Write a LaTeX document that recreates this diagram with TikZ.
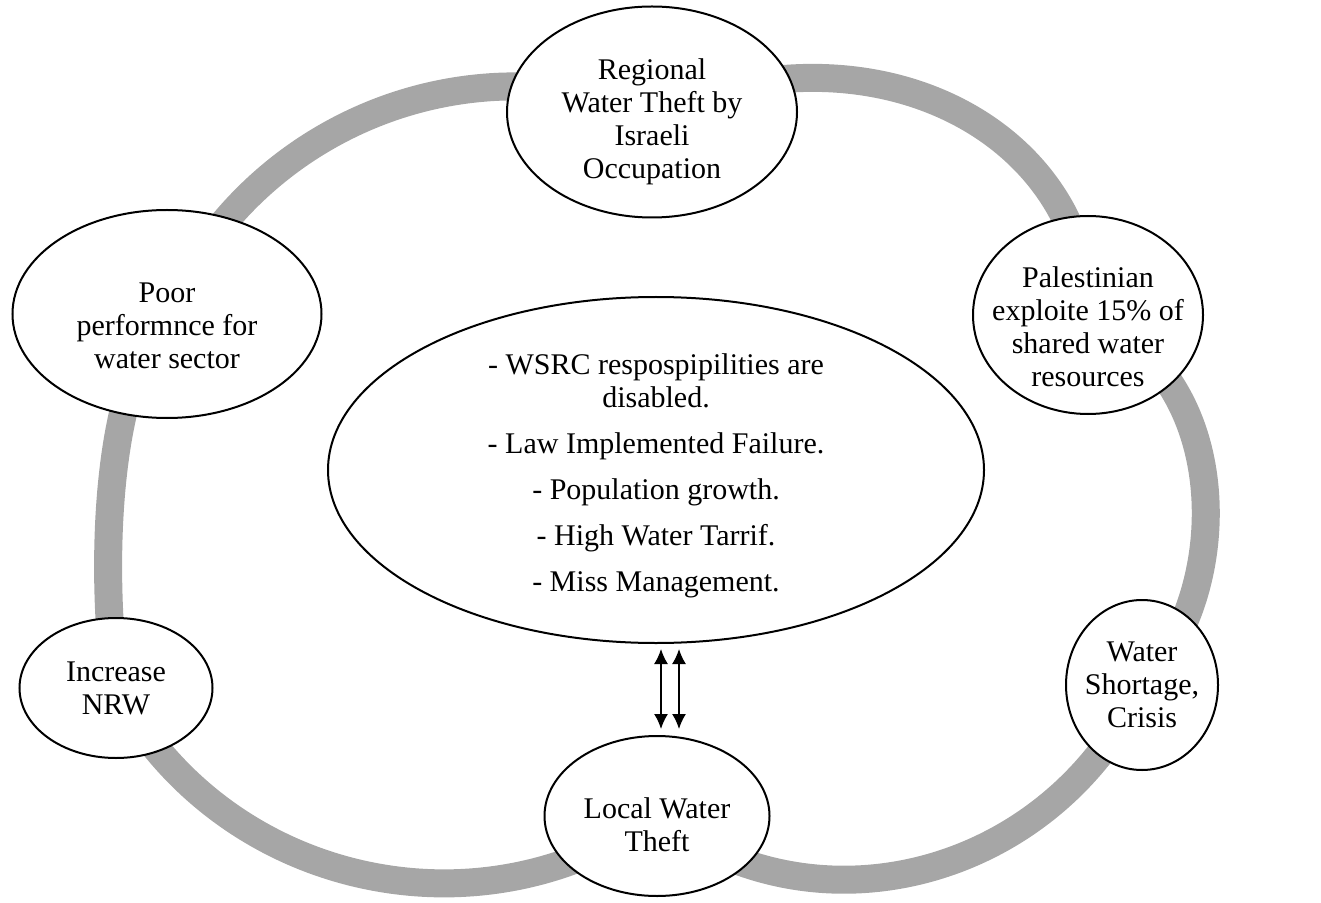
\documentclass[tikz,border=0pt]{standalone}
\usepackage{fontspec}
\setmainfont{Liberation Serif}
\usetikzlibrary{shapes.geometric,arrows.meta,backgrounds}
\definecolor{ringgray}{RGB}{166,166,166}
\tikzset{
  bubble/.style={ellipse,draw,line width=1pt,fill=white,inner sep=0pt},
  txt/.style={align=center,inner sep=0pt,font=\fontsize{15}{16.5}\selectfont},
  ring/.style={draw=ringgray,line width=14pt},
  twoway/.style={arrows={Latex[length=7.5pt,width=7pt]-Latex[length=7.5pt,width=7pt]},line width=0.8pt}
}

\begin{document}
\begin{tikzpicture}[x=0.5pt,y=-0.5pt]
\useasboundingbox (0,0) rectangle (1321,903);
\node[bubble,minimum width=145pt,minimum height=105.5pt] (regional) at (652,112) {};
\node[txt] (regional-t) at ([yshift=-5pt]regional) {Regional\\Water Theft by\\Israeli\\Occupation};
\node[bubble,minimum width=115pt,minimum height=99pt] (share) at (1088,315) {};
\node[txt] (share-t) at ([yshift=-6pt]share) {Palestinian\\exploite 15\% of\\shared water\\resources};
\node[bubble,minimum width=154.5pt,minimum height=104pt] (poor) at (167,314) {};
\node[txt] (poor-t) at ([yshift=-6pt]poor) {Poor\\performnce for\\water sector};
\node[bubble,minimum width=76pt,minimum height=85pt] (shortage) at (1142,685) {};
\node[txt] (shortage-t) at (shortage) {Water\\Shortage,\\Crisis};
\node[bubble,minimum width=96.5pt,minimum height=70pt] (nrw) at (116,688) {};
\node[txt] (nrw-t) at (nrw) {Increase\\NRW};
\node[bubble,minimum width=112.5pt,minimum height=80pt] (local) at (657,816) {};
\node[txt] (local-t) at ([yshift=-4.5pt]local) {Local Water\\Theft};
\node[bubble,minimum width=328pt,minimum height=173pt] (causes) at (656,470) {};
\node[txt] (causes-t) at ([yshift=-2.75pt]causes)
  {- WSRC respospipilities are\\disabled.\\[6.5pt]
   - Law Implemented Failure.\\[6.5pt]
   - Population growth.\\[6.5pt]
   - High Water Tarrif.\\[6.5pt]
   - Miss Management.};
\begin{scope}[on background layer]
\draw[ring] (poor.center) .. controls (250,127) and (463,39) .. (regional.center);
\draw[ring] (regional.center) .. controls (882,15) and (1088,138) .. (share.center);
\draw[ring] (share.center) .. controls (1240,380) and (1230,600) .. (shortage.center);
\draw[ring] (shortage.center) .. controls (1054,876) and (818,940) .. (local.center);
\draw[ring] (local.center) .. controls (477,943) and (221,885) .. (nrw.center);
\draw[ring] (nrw.center) .. controls (102,590) and (100,390) .. (poor.center);
\end{scope}
\draw[twoway,shorten <=2.5pt,shorten >=3pt] ([xshift=2.5pt]causes.south) -- ([xshift=2.5pt]causes.south |- local.north);
\draw[twoway,shorten <=2.5pt,shorten >=3pt] ([xshift=11.5pt]causes.south) -- ([xshift=11.5pt]causes.south |- local.north);
\end{tikzpicture}
\end{document}
